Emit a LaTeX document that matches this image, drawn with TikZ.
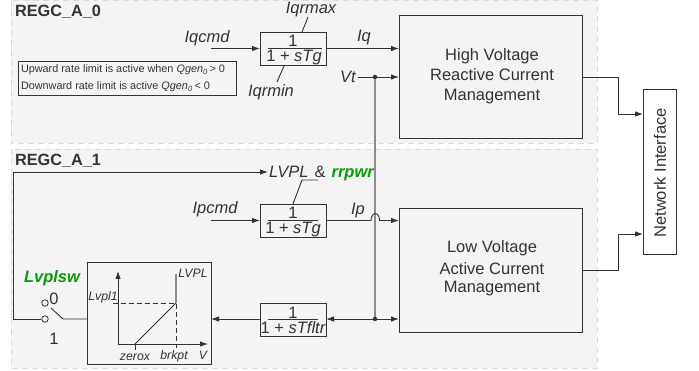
\documentclass[tikz,border=0pt]{standalone}
\usepackage{fontspec}
\setmainfont{Liberation Sans}
\usetikzlibrary{arrows.meta}
\definecolor{panelfill}{HTML}{F4F4F4}
\definecolor{paneledge}{HTML}{DADADA}
\definecolor{ink}{HTML}{333333}
\definecolor{greenlbl}{HTML}{0A9A0A}
\tikzset{
  panel/.style={draw=paneledge,fill=panelfill,dash pattern=on 6pt off 4pt,line width=0.9pt},
  blockbox/.style={draw=ink,line width=0.9pt,inner sep=0pt,outer sep=0pt},
  lbl/.style={inner sep=0pt,outer sep=0pt,text=ink,font=\fontsize{16.5}{20}\selectfont\itshape},
  plain/.style={inner sep=0pt,outer sep=0pt,text=ink,font=\fontsize{16.5}{20}\selectfont,align=center},
  smalltxt/.style={inner sep=0pt,outer sep=0pt,text=ink,font=\fontsize{12.3}{14}\selectfont\itshape},
  notetxt/.style={inner sep=0pt,outer sep=0pt,text=ink,font=\fontsize{10.85}{13}\selectfont},
  titletxt/.style={inner sep=0pt,outer sep=0pt,text=ink,font=\fontsize{16.3}{20}\selectfont\bfseries},
  greentxt/.style={inner sep=0pt,outer sep=0pt,text=greenlbl,font=\fontsize{16.5}{20}\selectfont\bfseries\itshape},
  wire/.style={draw=ink,line width=0.9pt},
  graywire/.style={draw=gray!90,line width=1.6pt},
  arr/.style={wire,-{Latex[length=8pt,width=5.5pt]}},
  dotnode/.style={circle,fill=ink,inner sep=0pt,minimum size=4.5pt},
  port/.style={circle,draw=ink,fill=none,line width=0.8pt,inner sep=0pt,minimum size=6.5pt},
}
\begin{document}
\begin{tikzpicture}[x=1pt,y=-1pt]
\useasboundingbox (0,0) rectangle (699,371);
\fill[white] (0,0) rectangle (699,371);
% panels
\draw[panel] (11,0) rectangle (597,143);
\draw[panel] (11,149) rectangle (597,368);
\node[titletxt,anchor=base west] (t0) at (15,17) {REGC\_A\_0};
\node[titletxt,anchor=base west] (t1) at (15,166) {REGC\_A\_1};
% note
\node[blockbox,minimum width=218pt,minimum height=34pt,anchor=north west] (notebox) at (18,61) {};
\node[notetxt,anchor=base west] (n1) at (21,73) {Upward rate limit is active when \textit{Qgen}\textsubscript{\textit{0}}\,> 0};
\node[notetxt,anchor=base west] (n2) at (21,90) {Downward rate limit is active \textit{Qgen}\textsubscript{\textit{0}}\,< 0};
% lag blocks
\node[blockbox,minimum width=66pt,minimum height=33pt] (tg1) at (293,48.5) {};
\node[plain] (tg1n) at (293,41) {1};
\node[lbl] (tg1d) at (294,58) {\upshape 1 + \itshape sTg};
\coordinate (tg1a) at (268,48.5); \coordinate (tg1b) at (322,48.5);
\draw[wire] (tg1a) -- (tg1b);
\node[blockbox,minimum width=66pt,minimum height=33pt] (tg2) at (293,220.5) {};
\node[plain] (tg2n) at (293,213) {1};
\node[lbl] (tg2d) at (293,230) {\upshape 1 + \itshape sTg};
\coordinate (tg2a) at (268,220.5); \coordinate (tg2b) at (318,220.5);
\draw[wire] (tg2a) -- (tg2b);
\node[blockbox,minimum width=66pt,minimum height=33pt] (flt) at (293,319.5) {};
\node[plain] (fltn) at (293,313) {1};
\node[lbl] (fltd) at (293,328) {\upshape 1 + \itshape sTfltr};
\coordinate (flta) at (268,319.5); \coordinate (fltb) at (318,319.5);
\draw[wire] (flta) -- (fltb);
% large blocks
\node[blockbox,fill=panelfill,minimum width=183pt,minimum height=123pt] (hv) at (490.5,76.5) {};
\node[plain] (hvt) at (492,76.5) {High Voltage\\Reactive Current\\Management};
\node[blockbox,fill=panelfill,minimum width=183pt,minimum height=124pt] (lv) at (490.5,270) {};
\node[plain] (lvt) at (492,268) {Low Voltage\\[2pt]Active Current\\[-2pt]Management};
\node[blockbox,fill=white,minimum width=33pt,minimum height=165pt] (net) at (659.5,171.5) {};
\node[plain,rotate=90] (nett) at (660,173) {Network Interface};
% limiter block
\node[blockbox,minimum width=124pt,minimum height=102pt] (lim) at (149,313) {};
% labels top
\node[lbl] (iqcmd) at (207,38) {Iqcmd};
\node[lbl] (iqmax) at (311,10) {Iqrmax};
\node[lbl] (iqmin) at (271,92) {Iqrmin};
\node[lbl] (iq) at (364,38) {Iq};
\node[lbl] (vt) at (348,77) {Vt};
\node[lbl] (ipcmd) at (215,209) {Ipcmd};
\node[lbl] (ip) at (358,211) {Ip};
\node[lbl,anchor=base west] (lvpl) at (269,177.5) {LVPL\hspace{1.5pt} \upshape \&\hspace{1.5pt} \textcolor{greenlbl}{\bfseries\itshape rrpwr}};
\node[greentxt] (sw) at (52,278) {Lvplsw};
\node[plain] (s0) at (54,299) {0};
\node[plain] (s1) at (54,338.5) {1};
% upper connectors
\coordinate (iqs) at (211,48.5);
\draw[arr] (iqs) -- (tg1.west);
\draw[arr] (tg1.east) -- (hv.west |- tg1.east);
\coordinate (maxe) at (308,17);
\coordinate (mine) at (277,82);
\draw[wire] (maxe) -- (302,32);
\draw[wire] (284,66) -- (mine);
\node[dotnode] (vd) at (375,77) {};
\draw[arr] (358,77) -- (hv.west |- vd);
\draw[wire] (582,77) -- (618,77) -- (618,114);
\draw[arr] (618,114) -- (net.west |- 0,114);
\draw[wire] (582,270) -- (618,270) -- (618,234);
\draw[arr] (618,234) -- (net.west |- 0,234);
% lower connectors
\coordinate (ips) at (211,220.5);
\draw[arr] (ips) -- (tg2.west);
\node[dotnode] (fd) at (375,319) {};
\draw[graywire] (vd) -- (fd);
\draw[wire] (tg2.east) -- (371,220.5) arc[start angle=180,end angle=0,x radius=4.3,y radius=-7] -- (381,220.5);
\draw[arr] (381,220.5) -- (lv.west |- 0,220.5);
\draw[arr] (fd) -- (lv.west |- fd);
\draw[arr] (fd) -- (flt.east |- fd);
\draw[arr] (flt.west |- fd) -- (lim.east |- fd);
\coordinate (swr) at (63,319);
\draw[wire] (lim.west |- fd) -- (swr) -- (51,308);
\node[port] (p0) at (45,303) {};
\node[port] (p1) at (45,319) {};
\draw[arr] (p1.west) -- (13,319) -- (13,172) -- (268,172);
\draw[wire] (318,180) -- (302,180) -- (293,204);
% limiter graph
\coordinate (org) at (118,344);
\coordinate (knee) at (176,303);
\coordinate (zx) at (135,344);
\draw[arr] (org) -- (118,271);
\draw[arr] (org) -- (208,344);
\draw[wire] (zx) -- (knee);
\draw[wire] (zx) -- (135,350);
\draw[graywire,line width=1.3pt] (176,274) -- (knee);
\draw[wire,dash pattern=on 5pt off 3pt] (113,303) -- (knee) -- (176,348);
\node[smalltxt] (gl) at (193,273) {LVPL};
\node[smalltxt] (gy) at (103,297) {Lvpl1};
\node[smalltxt] (gz) at (135,357) {zerox};
\node[smalltxt] (gb) at (174,356) {brkpt};
\node[smalltxt] (gv) at (203,355) {V};
\end{tikzpicture}
\end{document}
